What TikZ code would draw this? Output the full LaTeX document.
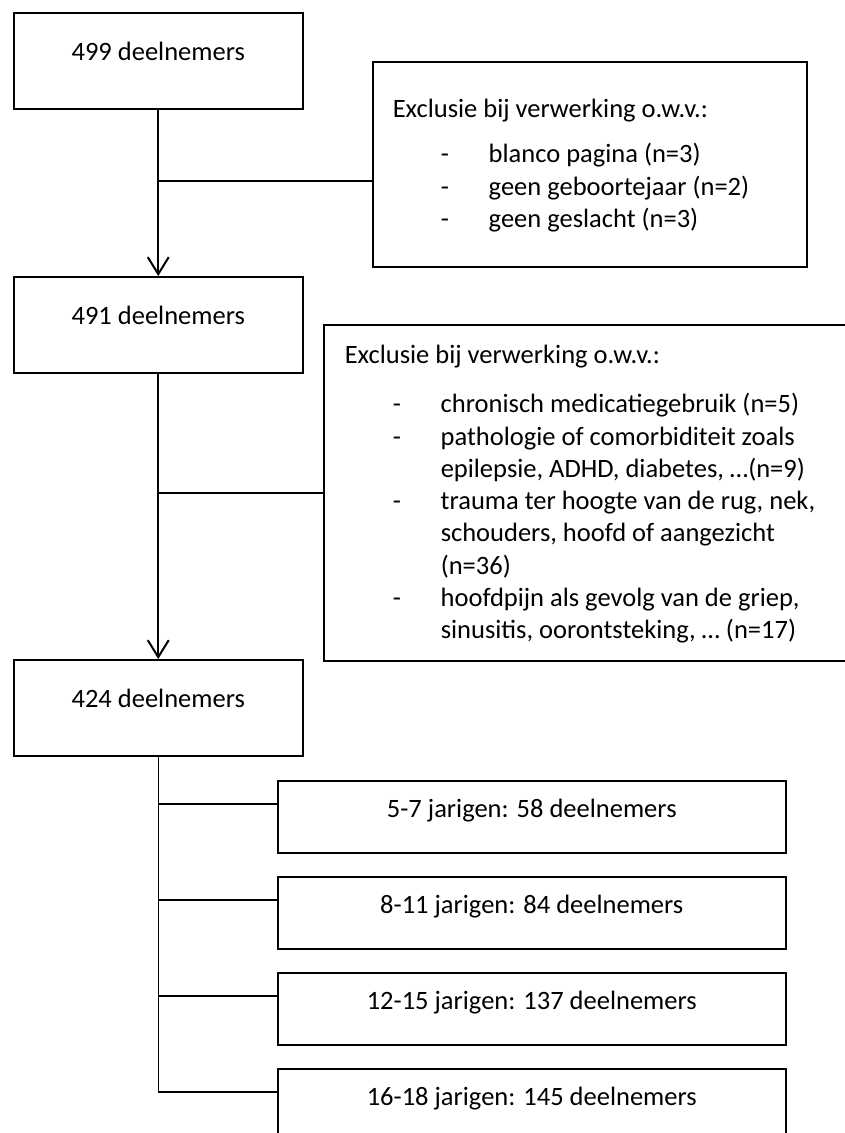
\documentclass[tikz,border=0pt]{standalone}
\usepackage{fontspec}
\setmainfont{Carlito}
\usetikzlibrary{arrows.meta}
\newcommand{\flowfont}{\fontsize{26.5pt}{32.3pt}\selectfont}
\newcommand{\dashitem}[2]{\hspace*{#1}\makebox[#1][l]{-}#2}
\newcommand{\dashcont}[2]{\hspace*{#1}\hspace*{#1}#2}
\tikzset{
  box/.style={draw, line width=1.5pt, minimum width=289pt, inner sep=0pt,
    text height=48pt, text depth=48pt, anchor=north west},
  agebox/.style={draw, line width=1.5pt, minimum width=508pt, inner sep=0pt,
    text height=37pt, text depth=35pt, anchor=north west},
  exclbox/.style={draw, line width=1.5pt, align=flush left, inner ysep=0pt, anchor=north west},
  flow/.style={line width=2pt, -{Straight Barb[length=17pt,width=21pt,line width=2pt]}},
  branch/.style={line width=1.5pt}
}
\begin{document}
\begin{tikzpicture}[x=1pt, y=-1pt, font=\flowfont]
  \useasboundingbox (0,0) rectangle (844,1133);
  % main column
  \node[box] (b499) at (13,12) {499 deelnemers};
  \node[box] (b491) at (13,276) {491 deelnemers};
  \node[box] (b424) at (13,659) {424 deelnemers};
  % exclusions
  \node[exclbox, text width=394pt, inner xsep=20pt, text height=56pt, text depth=149pt] (ex1) at (372,61)
    {Exclusie bij verwerking o.w.v.:\\[12.7pt]
     \dashitem{48pt}{blanco pagina (n=3)}\\
     \dashitem{48pt}{geen geboortejaar (n=2)}\\
     \dashitem{48pt}{geen geslacht (n=3)}};
  \node[exclbox, text width=483pt, inner xsep=21pt, text height=39pt, text depth=297pt] (ex2) at (323,324)
    {Exclusie bij verwerking o.w.v.:\\[16.7pt]
     \dashitem{48pt}{chronisch medicatiegebruik (n=5)}\\
     \dashitem{48pt}{pathologie of comorbiditeit zoals}\\
     \dashcont{48pt}{epilepsie, ADHD, diabetes, …(n=9)}\\
     \dashitem{48pt}{trauma ter hoogte van de rug, nek,}\\
     \dashcont{48pt}{schouders, hoofd of aangezicht}\\
     \dashcont{48pt}{(n=36)}\\
     \dashitem{48pt}{hoofdpijn als gevolg van de griep,}\\
     \dashcont{48pt}{sinusitis, oorontsteking, … (n=17)}};
  % age groups
  \foreach \name/\ytop/\txt in {a1/780/5-7 jarigen: 58 deelnemers,
                                a2/876/8-11 jarigen: 84 deelnemers,
                                a3/972/12-15 jarigen: 137 deelnemers,
                                a4/1068/16-18 jarigen: 145 deelnemers}{
    \node[agebox] (\name) at (277,\ytop) {\txt};
    \coordinate (\name-in) at ([yshift=-24pt]\name.north west);
    \draw[branch] (\name-in -| b424.south) -- (\name-in);
  }
  % connectors
  \coordinate (ex1-in) at ([yshift=-16.5pt]ex1.west);
  \coordinate (last-in) at ([yshift=-24pt]a4.north west);
  \draw[flow] (b499.south) -- (b491.north);
  \draw[branch] (ex1-in -| b499.south) -- (ex1-in);
  \draw[flow] (b491.south) -- (b424.north);
  \draw[branch] (ex2.west -| b491.south) -- (ex2.west);
  \draw[branch] (b424.south) -- (last-in -| b424.south);
\end{tikzpicture}
\end{document}
